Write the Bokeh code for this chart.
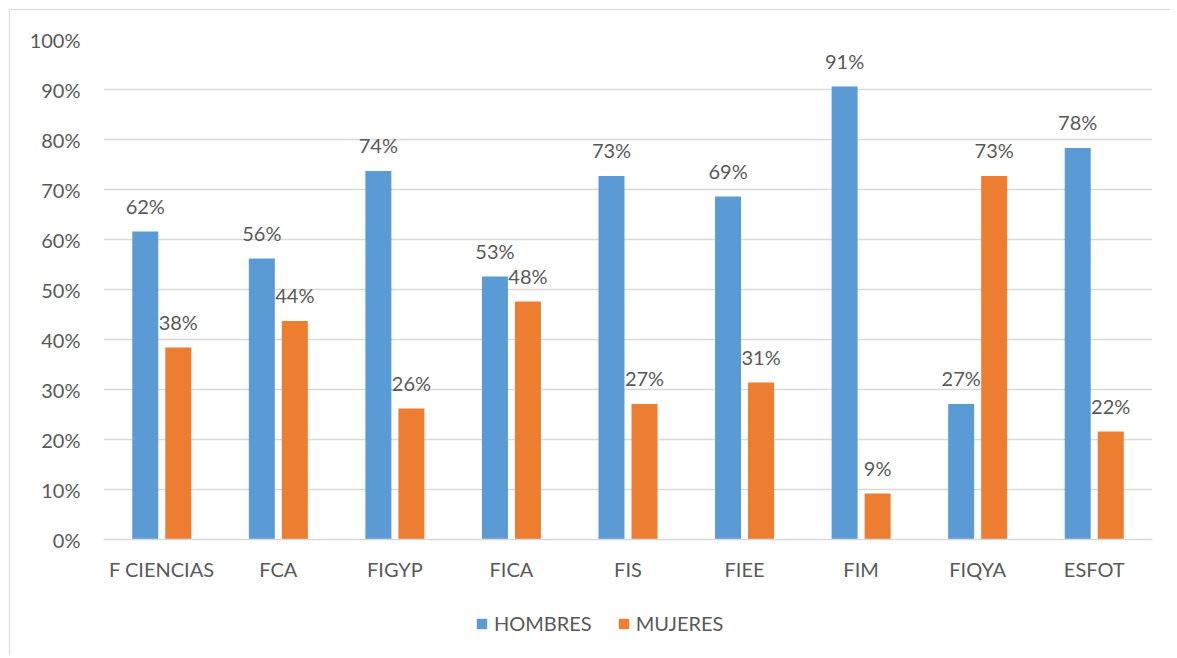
from bokeh.plotting import figure
from bokeh.layouts import column
from bokeh.models import ColumnDataSource, Range1d, NumeralTickFormatter, Legend, LegendItem, FixedTicker
from bokeh.transform import dodge
from bokeh.core.properties import value
from bokeh.embed import file_html
from bokeh.resources import INLINE

categories = ["F CIENCIAS", "FCA", "FIGYP", "FICA", "FIS", "FIEE", "FIM", "FIQYA", "ESFOT"]
hombres = [0.616, 0.562, 0.737, 0.526, 0.727, 0.686, 0.906, 0.271, 0.783]
mujeres = [0.384, 0.437, 0.262, 0.476, 0.271, 0.314, 0.092, 0.727, 0.216]
series = ["HOMBRES", "MUJERES"]
y_ticks = [i / 10 for i in range(11)]

FONT = "Lato"
GRAY = "#595959"
BLUE = "#5B9BD5"
ORANGE = "#ED7D31"
COLORS = [BLUE, ORANGE]

src = ColumnDataSource(dict(
    cat=categories,
    h=hombres,
    m=mujeres,
    hl=[f"{round(v * 100)}%" for v in hombres],
    ml=[f"{round(v * 100)}%" for v in mujeres],
))

W = 1160
p = figure(x_range=categories, y_range=Range1d(0, 1), width=W, height=596,
           output_backend="svg", toolbar_location=None,
           min_border_left=93, min_border_right=18, min_border_top=29, min_border_bottom=67)
p.outline_line_color = None
p.background_fill_color = "white"
p.border_fill_color = "white"

w = 0.223
dd = 0.1416
rh = p.vbar(x=dodge("cat", -dd, range=p.x_range), top="h", width=w, source=src,
            fill_color=BLUE, line_color=None)
rm = p.vbar(x=dodge("cat", dd, range=p.x_range), top="m", width=w, source=src,
            fill_color=ORANGE, line_color=None)

p.text(x=dodge("cat", -dd, range=p.x_range), y="h", text="hl", source=src,
       text_font=value(FONT), text_font_size="20px", text_color=GRAY,
       text_align="center", text_baseline="alphabetic", y_offset=-26)
p.text(x=dodge("cat", dd, range=p.x_range), y="m", text="ml", source=src,
       text_font=value(FONT), text_font_size="20px", text_color=GRAY,
       text_align="center", text_baseline="alphabetic", y_offset=-26)

p.yaxis.ticker = FixedTicker(ticks=y_ticks)
p.yaxis.formatter = NumeralTickFormatter(format="0%")
p.yaxis.axis_line_color = None
p.yaxis.major_tick_line_color = None
p.yaxis.minor_tick_line_color = None
p.yaxis.major_tick_out = 0
p.yaxis.minor_tick_out = 0
p.yaxis.major_label_standoff = 23
p.yaxis.major_label_text_font = FONT
p.yaxis.major_label_text_font_size = "20px"
p.yaxis.major_label_text_color = GRAY

p.xaxis.axis_line_color = "#d9d9d9"
p.xaxis.axis_line_width = 1.5
p.xaxis.major_tick_line_color = None
p.xaxis.minor_tick_line_color = None
p.xaxis.major_tick_out = 0
p.xaxis.minor_tick_out = 0
p.xaxis.major_label_standoff = 17
p.xaxis.major_label_text_font = FONT
p.xaxis.major_label_text_font_size = "20px"
p.xaxis.major_label_text_color = GRAY

p.xgrid.grid_line_color = None
p.ygrid.grid_line_color = "#d9d9d9"
p.ygrid.grid_line_width = 1.5

# legend strip
pl = figure(x_range=Range1d(0, 1), y_range=Range1d(0, 1), width=W, height=49,
            output_backend="svg", toolbar_location=None,
            min_border_left=0, min_border_right=0, min_border_top=0, min_border_bottom=0)
pl.axis.visible = False
pl.grid.grid_line_color = None
pl.outline_line_color = None
items = []
for name, col in zip(series, COLORS):
    # zero-size placeholder glyph, only used as the legend swatch
    r = pl.vbar(x=[0.5], top=[0], width=0, fill_color=col, line_color=None)
    items.append(LegendItem(label=name, renderers=[r]))
legend = Legend(items=items, orientation="horizontal", location=(372, 20),
                glyph_width=13, glyph_height=13, label_standoff=6, spacing=25,
                padding=0, margin=0, border_line_color=None, background_fill_alpha=0,
                label_text_font=FONT, label_text_font_size="20px", label_text_color=GRAY)
pl.add_layout(legend, "center")

layout = column(p, pl, spacing=0,
                styles={"border-left": "1px solid #d9d9d9", "border-top": "1px solid #d9d9d9",
                        "margin-left": "9px", "margin-top": "9px"})
open("out.html", "w").write(file_html(layout, INLINE))
